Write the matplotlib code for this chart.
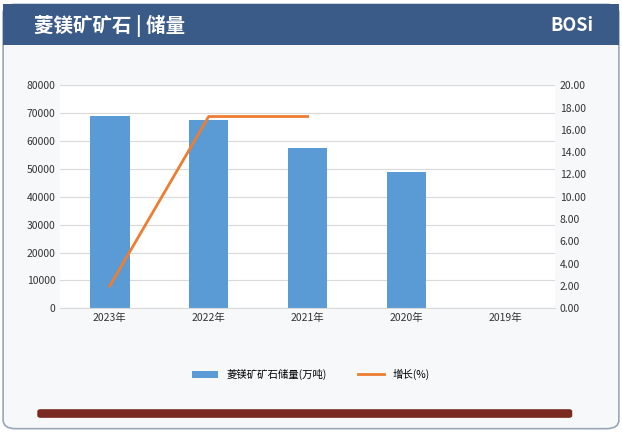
import matplotlib
matplotlib.use("Agg")
import matplotlib.pyplot as plt
from matplotlib.patches import FancyBboxPatch, Rectangle

plt.rcParams['font.family'] = ['Noto Sans CJK SC', 'DejaVu Sans']

years = ["2023年", "2022年", "2021年", "2020年", "2019年"]
reserves = [69000, 67500, 57500, 49000, 0]
growth_x = [0, 1, 2]
growth = [2.0, 17.2, 17.2]

fig = plt.figure(figsize=(6.22, 4.33), dpi=100)
fig.patch.set_facecolor("white")
# frame
fig.patches.append(FancyBboxPatch((0.005, 0.01), 0.99, 0.98, boxstyle="round,pad=0,rounding_size=0.02",
                                  transform=fig.transFigure, fc="#f7f8fa", ec="#9aa6b8", lw=1.2, zorder=-2))
fig.patches.append(Rectangle((0.005, 0.895), 0.99, 0.095, transform=fig.transFigure, fc="#3a5a88", ec="none", zorder=-1))
fig.text(0.055, 0.94, "菱镁矿矿石 | 储量", color="white", fontsize=14, fontweight="bold", va="center")
fig.text(0.92, 0.94, "BOSi", color="white", fontsize=13, fontweight="bold", va="center", ha="center")
fig.patches.append(FancyBboxPatch((0.06, 0.035), 0.86, 0.02, boxstyle="round,pad=0,rounding_size=0.005",
                                  transform=fig.transFigure, fc="#7a2a20", ec="none"))

ax = fig.add_axes([0.097, 0.288, 0.795, 0.515])
ax.set_facecolor("white")
x = range(len(years))
ax.bar(x, reserves, width=0.4, color="#5b9bd5", label="菱镁矿矿石储量(万吨)")
ax.set_ylim(0, 80000)
ax.set_yticks(range(0, 80001, 10000))
ax.set_xticks(list(x))
ax.set_xticklabels(years)
ax.set_xlim(-0.5, 4.5)
ax.grid(axis="y", color="#d9d9d9", lw=0.8)
ax.set_axisbelow(True)
for s in ["top", "left", "right"]:
    ax.spines[s].set_visible(False)
ax.spines["bottom"].set_color("#d9d9d9")
ax.tick_params(length=0, labelsize=7.5, colors="#333333")

ax2 = ax.twinx()
ax2.plot(growth_x, growth, color="#ed7d31", lw=2, label="增长(%)")
ax2.set_ylim(0, 20)
ax2.set_yticks(range(0, 21, 2))
ax2.set_yticklabels([f"{v:.2f}" for v in range(0, 21, 2)])
for s in ["top", "left", "right", "bottom"]:
    ax2.spines[s].set_visible(False)
ax2.tick_params(length=0, labelsize=7.5, colors="#333333")

h1, l1 = ax.get_legend_handles_labels()
h2, l2 = ax2.get_legend_handles_labels()
fig.legend(h1 + h2, l1 + l2, loc="center", bbox_to_anchor=(0.5, 0.135), ncol=2, frameon=False,
           fontsize=7.5, handlelength=2.5, columnspacing=3)

fig.savefig("out.png", dpi=100, facecolor=fig.get_facecolor())
